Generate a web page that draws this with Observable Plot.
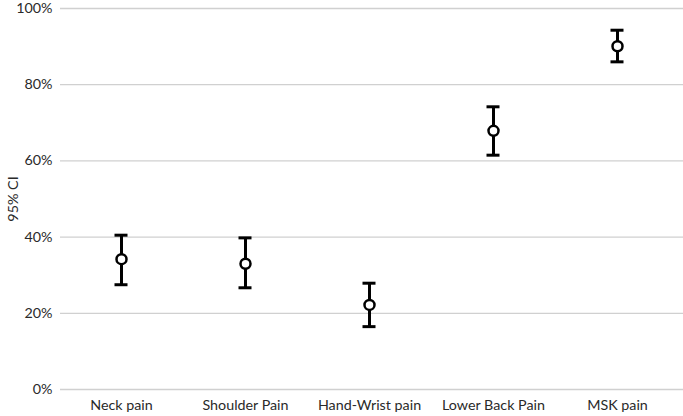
<!DOCTYPE html>
<html>
<head>
<meta charset="utf-8">
<script src="https://cdn.jsdelivr.net/npm/d3@7"></script>
<script src="https://cdn.jsdelivr.net/npm/@observablehq/plot@0.6"></script>
<style>
  html, body { margin: 0; padding: 0; background: #fff; }
  #chart svg { display: block; }
</style>
</head>
<body>
<div id="chart"></div>
<script>
const categories = ["Neck pain", "Shoulder Pain", "Hand-Wrist pain", "Lower Back Pain", "MSK pain"];
const estimate = [34.2, 33.0, 22.2, 67.9, 90.1];
const lower = [27.5, 26.7, 16.5, 61.5, 86.0];
const upper = [40.5, 39.8, 27.9, 74.2, 94.3];
const yTicks = [0, 20, 40, 60, 80, 100];

const data = categories.map((c, i) => ({cat: c, est: estimate[i], lo: lower[i], hi: upper[i]}));

const chart = Plot.plot({
  width: 683,
  height: 416,
  marginLeft: 59,
  marginRight: 4,
  marginTop: 8,
  marginBottom: 27,
  style: {fontFamily: "Lato, 'Open Sans', sans-serif", fontSize: "14.3px", color: "#2a2a2a"},
  x: {domain: categories, padding: 0, label: null, tickSize: 0, tickPadding: 10},
  y: {domain: [0, 100], ticks: yTicks, tickFormat: d => d + "%", label: "95% CI",
      labelAnchor: "center", labelArrow: "none", tickSize: 0, tickPadding: 7, labelOffset: 52},
  marks: [
    Plot.ruleY(yTicks, {stroke: "#d0d0d0", strokeWidth: 1.3, insetLeft: 1, insetRight: -4}),
    Plot.ruleX(data, {x: "cat", y1: "lo", y2: "hi", stroke: "#000", strokeWidth: 3}),
    Plot.tickY(data, {x: "cat", y: "hi", stroke: "#000", strokeWidth: 3, insetLeft: 55.5, insetRight: 55.5}),
    Plot.tickY(data, {x: "cat", y: "lo", stroke: "#000", strokeWidth: 3, insetLeft: 55.5, insetRight: 55.5}),
    Plot.dot(data, {x: "cat", y: "est", r: 5, fill: "#fff", stroke: "#000", strokeWidth: 2.5})
  ]
});
document.getElementById("chart").appendChild(chart);
</script>
</body>
</html>
